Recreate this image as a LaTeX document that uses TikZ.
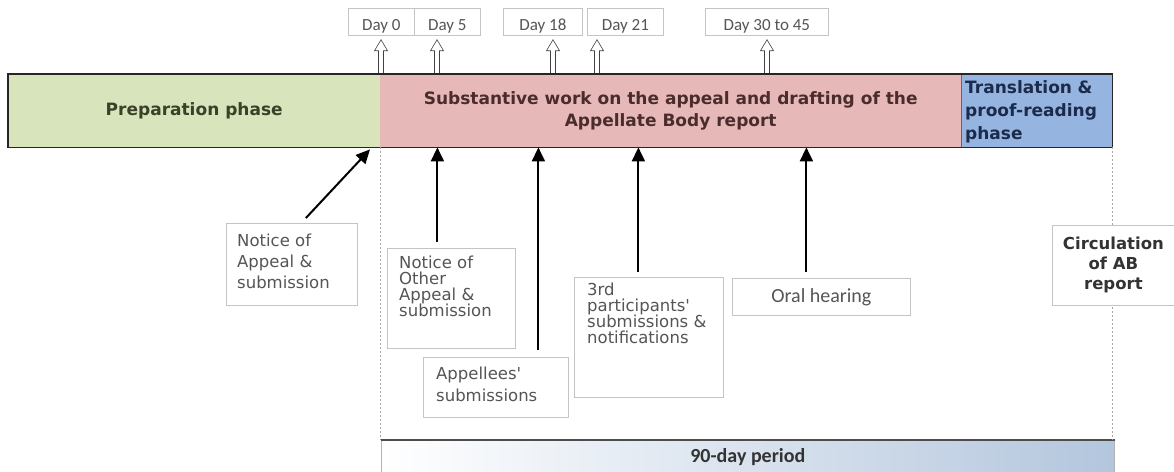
\documentclass[tikz,border=0pt]{standalone}
\usepackage{fontspec}
\setmainfont{DejaVu Sans}
\newfontfamily\carlito{Carlito}
\usetikzlibrary{arrows.meta,calc}
\definecolor{prepgreen}{HTML}{D8E4BC}
\definecolor{workpink}{HTML}{E6B9B8}
\definecolor{transblue}{HTML}{95B5E0}
\definecolor{preptext}{HTML}{3A4128}
\definecolor{worktext}{HTML}{4A2C2C}
\definecolor{transtext}{HTML}{1C2B4B}
\definecolor{boxtext}{HTML}{555555}
\definecolor{boxline}{HTML}{C4C4C4}
\definecolor{periodblue}{HTML}{B3C6DD}
\begin{document}
\begin{tikzpicture}[x=1pt,y=-1pt,
 phase/.style={anchor=north west, minimum height=73pt, inner sep=0pt, font=\bfseries\fontsize{17}{22}\selectfont},
 infobox/.style={draw=boxline, line width=0.8pt, fill=white, anchor=north west, inner sep=0pt},
 infotext/.style={anchor=north west, inner sep=0pt, align=left, text=boxtext},
 daybox/.style={draw=boxline, line width=0.7pt, fill=white, anchor=north west, inner sep=0pt, minimum height=27pt, text height=20pt, text depth=2pt, font=\carlito\fontsize{17}{20}\selectfont, text=boxtext},
 hollow/.style={draw=black!75, line width=0.6pt, fill=white, to path={let \p1=(\tikztostart), \p2=(\tikztotarget) in (\x1-2.5pt,\y1) -- (\x1-2.5pt,\y2-11pt) -- (\x1-6.5pt,\y2-11pt) -- (\x1,\y2) -- (\x1+6.5pt,\y2-11pt) -- (\x1+2.5pt,\y2-11pt) -- (\x1+2.5pt,\y1) \tikztonodes}},
 pointer/.style={draw=black, line width=2pt, -{Triangle[width=13pt,length=14pt]}},
 guide/.style={draw=gray!70, line width=0.8pt, dash pattern=on 2pt off 2pt}
]
\useasboundingbox (0,0) rectangle (1174,471);
% phases
\node[phase, fill=prepgreen, minimum width=372pt, text=preptext] (prep) at (8,74) {Preparation phase};
\node[phase, fill=workpink, minimum width=581pt, align=center, text=worktext] (work) at (380,74) {Substantive work on the appeal and drafting of the\\Appellate Body report};
\node[phase, fill=transblue, minimum width=151pt, text width=143pt, inner xsep=4pt, align=left, text=transtext, font=\bfseries\fontsize{17}{23}\selectfont] (trans) at (961,74) {\rule{0pt}{16pt}Translation \&\\proof-reading\\phase};
% day labels
\node[daybox, minimum width=66pt] (d0) at (348,8) {Day 0};
\node[daybox, minimum width=66pt] (d5) at (414,8) {Day 5};
\node[daybox, minimum width=79pt] (d18) at (503,8) {Day 18};
\node[daybox, minimum width=76pt] (d21) at (587,8) {Day 21};
\node[daybox, minimum width=123pt] (d30) at (705,8) {Day 30 to 45};
\coordinate (h0) at (381,74);
\coordinate (h5) at (437,74);
\coordinate (h18) at (553,74);
\coordinate (h21) at (597,74);
\coordinate (h30) at (767,74);
\draw[hollow] (h0) to ($(h0 |- d0.south)+(0,4)$);
\draw[hollow] (h5) to ($(h5 |- d5.south)+(0,4)$);
\draw[hollow] (h18) to ($(h18 |- d18.south)+(0,4)$);
\draw[hollow] (h21) to ($(h21 |- d21.south)+(0,4)$);
\draw[hollow] (h30) to ($(h30 |- d30.south)+(0,4)$);
% bar outline
\draw[line width=0.8pt, black!60] (trans.north west) -- (trans.south west);
\draw[line width=1.6pt, black!85] (prep.north west) rectangle (trans.south east);
% 90-day period
\node[anchor=north west, minimum width=733pt, minimum height=34pt, inner sep=0pt, left color=white, right color=periodblue, draw=gray!60, line width=0.6pt, font=\carlito\bfseries\fontsize{20}{24}\selectfont, text=black!80] (p90) at (381,440) {90-day period};
\draw[line width=1.4pt, gray!60!black] (p90.north west) -- (p90.north east);
% guides
\draw[guide] (work.south west) -- (work.south west |- p90.north);
\draw[guide] (trans.south east) -- (trans.south east |- p90.north);
% boxes
\node[infobox, minimum width=131pt, minimum height=82pt] (na) at (226,223) {};
\node[infotext, font=\fontsize{16.5}{21}\selectfont] (nat) at (237,234) {Notice of\\Appeal \&\\submission};
\node[infobox, minimum width=128pt, minimum height=100pt] (no) at (387,248) {};
\node[infotext, font=\fontsize{16.5}{16}\selectfont] (not) at (399,256) {Notice of\\Other\\Appeal \&\\submission};
\node[infobox, minimum width=145pt, minimum height=60pt] (ap) at (423,357) {};
\node[infotext, font=\fontsize{16.5}{22}\selectfont] (apt) at (436,367) {Appellees\textquotesingle\\submissions};
\node[infobox, minimum width=149pt, minimum height=120pt] (tp) at (574,277) {};
\node[infotext, font=\fontsize{16.5}{16}\selectfont] (tpt) at (587,283) {3rd\\participants\textquotesingle\\submissions \&\\notifications};
\node[infobox, minimum width=178pt, minimum height=37pt, font=\carlito\fontsize{20}{24}\selectfont, text=boxtext] (oh) at (732,278) {Oral hearing};
\node[infobox, minimum width=122pt, minimum height=80pt, align=center, font=\bfseries\fontsize{16.5}{20}\selectfont, text=black!80] (ci) at (1052,225) {Circulation\\of AB\\report};
% pointers
\coordinate (s1) at ([shift={(14,-5)}]na.north);
\coordinate (t1) at ([shift={(-10,2)}]work.south west);
\coordinate (s2) at ([shift={(-14,-6)}]no.north);
\coordinate (s3) at ([shift={(42.5,-7)}]ap.north);
\coordinate (s4) at ([shift={(-10.5,-5)}]tp.north);
\coordinate (s5) at ([shift={(-15,-6)}]oh.north);
\draw[pointer] (s1) -- (t1);
\draw[pointer] (s2) -- (s2 |- work.south);
\draw[pointer] (s3) -- (s3 |- work.south);
\draw[pointer] (s4) -- (s4 |- work.south);
\draw[pointer] (s5) -- (s5 |- work.south);
\end{tikzpicture}
\end{document}
